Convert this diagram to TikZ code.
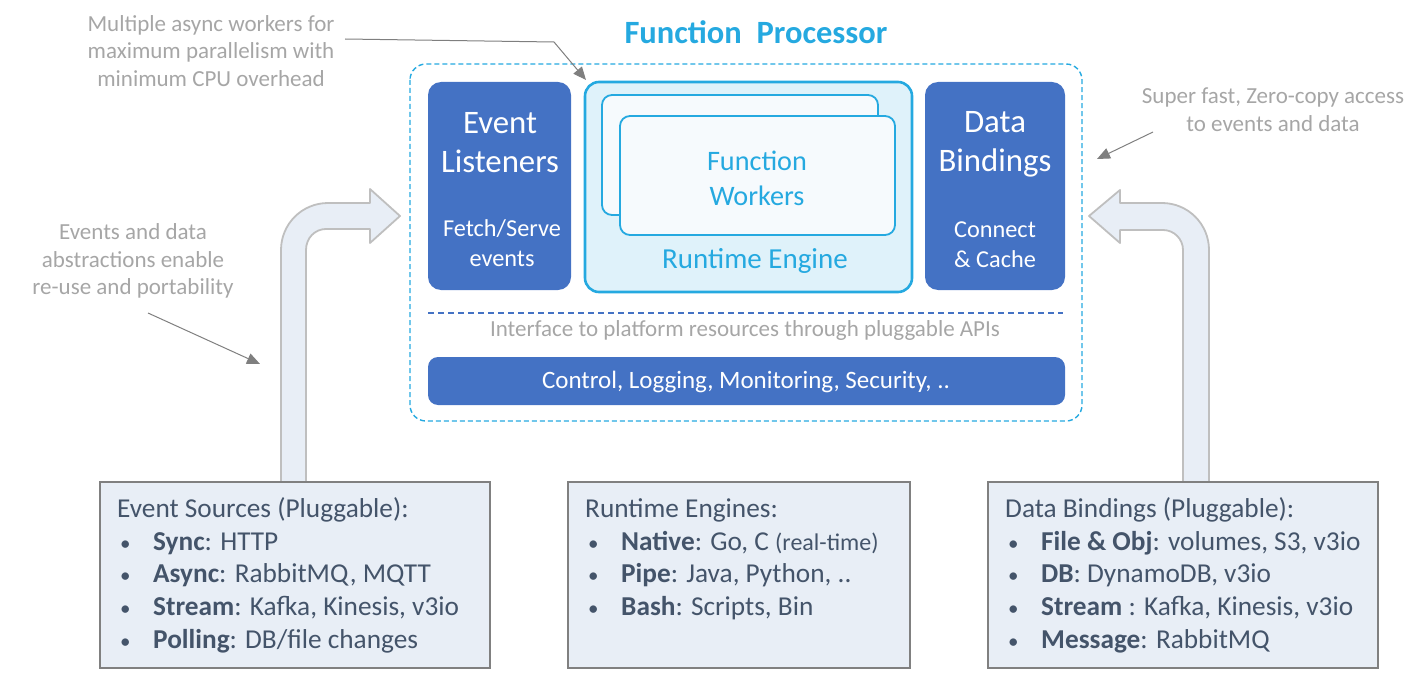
\documentclass[tikz,border=0pt]{standalone}
\usepackage{fontspec}
\setmainfont{Carlito}
\usetikzlibrary{arrows.meta}
\definecolor{boxblue}{HTML}{4472C4}
\definecolor{cyanc}{HTML}{25A9E0}
\definecolor{rtfill}{HTML}{DFF2FA}
\definecolor{cardfill}{HTML}{F6FAFD}
\definecolor{srcfill}{HTML}{E8EEF6}
\definecolor{bordergray}{HTML}{808080}
\definecolor{slate}{HTML}{44546A}
\definecolor{annotgray}{HTML}{A6A6A6}
\definecolor{arrowgray}{HTML}{7F7F7F}
\definecolor{bentfill}{HTML}{E8EEF6}
\definecolor{bentdraw}{HTML}{BFBFBF}
\tikzset{
  annot/.style={text=annotgray, font=\fontsize{23}{27.6}\selectfont, align=center, inner sep=0},
  bluebox/.style={fill=boxblue, rounded corners=13, draw=none},
  bigw/.style={text=white, font=\fontsize{32.8}{39}\selectfont, align=center, inner sep=0},
  smallw/.style={text=white, font=\fontsize{24.3}{30}\selectfont, align=center, inner sep=0},
  srcbox/.style={draw=bordergray, fill=srcfill, line width=1.6},
  srctext/.style={text=slate, font=\fontsize{27.3}{33}\selectfont, anchor=base west, inner sep=0},
  notearrow/.style={draw=arrowgray, line width=1, -{Triangle[length=13,width=11]}},
  bent/.style={fill=bentfill, draw=bentdraw, line width=1.8, line join=round},
}
\newcommand{\bul}[2]{\makebox[36pt][l]{\hspace*{3pt}{\fontsize{21}{24}\selectfont\textbullet}}\textbf{#1}#2}
\begin{document}
\begin{tikzpicture}[x=1pt,y=-1pt]
\useasboundingbox (0,0) rectangle (1427,674);

% title
\node[text=cyanc, font=\fontsize{32.5}{36}\selectfont\bfseries, inner sep=0] (title) at (756,32) {Function\ \ Processor};

% outer dashed frame
\draw[cyanc, line width=1.4, dash pattern=on 5pt off 3pt, rounded corners=16] (410,64) rectangle (1082,421);
\node[inner sep=0, minimum width=0] (frame) at (746,242) {};

% event listeners
\draw[bluebox] (428,82) rectangle (571,290);
\node[inner sep=0] (el) at (499.5,186) {};
\node[bigw] (elt) at (500,143) {Event\\Listeners};
\node[smallw] (els) at (502,243) {Fetch/Serve\\events};

% runtime engine
\draw[draw=cyanc, fill=rtfill, line width=2.6, rounded corners=14] (585,82) rectangle (912,292);
\node[inner sep=0] (rt) at (748,187) {};
\draw[draw=cyanc, fill=cardfill, line width=1.8, rounded corners=10] (602,95) rectangle (878,215);
\draw[draw=cyanc, fill=cardfill, line width=1.8, rounded corners=10] (620,116) rectangle (895,235);
\node[text=cyanc, font=\fontsize{28.2}{35}\selectfont, align=center, inner sep=0] (fw) at (757,178) {Function\\Workers};
\node[text=cyanc, font=\fontsize{29}{32}\selectfont, inner sep=0] (rte) at (755,261) {Runtime Engine};

% data bindings
\draw[bluebox] (925,82) rectangle (1065,290);
\node[inner sep=0] (db) at (995,186) {};
\node[bigw] (dbt) at (995,144) {Data\\Bindings};
\node[smallw] (dbs) at (995,245) {Connect\\\& Cache};

% dashed separator
\draw[boxblue, line width=1.6, dash pattern=on 6pt off 4pt] (428,313) -- (1063,313);
\node[text=annotgray, font=\fontsize{23}{26}\selectfont, inner sep=0] (iface) at (745,330) {Interface to platform resources through pluggable APIs};

% control bar
\draw[bluebox, rounded corners=10] (428,357) rectangle (1065,405);
\node[text=white, font=\fontsize{25}{28}\selectfont, inner sep=0] (ctrl) at (746,382) {Control, Logging, Monitoring, Security, ..};

% bent arrows
\path[bent] (281,482) -- (281,250) .. controls (281,224) and (302,203) .. (328,203) -- (370,203) -- (370,189) -- (400,216) -- (370,243) -- (370,229) -- (326,229) .. controls (315,229) and (306,238) .. (306,250) -- (306,482) -- cycle;
\path[bent] (1209,482) -- (1209,250) .. controls (1209,224) and (1188,203) .. (1162,203) -- (1120,203) -- (1120,190) -- (1089,216) -- (1120,243) -- (1120,230) -- (1163,230) .. controls (1174,230) and (1183,239) .. (1183,250) -- (1183,482) -- cycle;

% bottom boxes
\draw[srcbox] (100,482) rectangle (490,668);
\node[inner sep=0] (srcL) at (295,575) {};
\node[srctext] (l0) at (117,517) {Event Sources (Pluggable):};
\node[srctext] (l1) at (117,550) {\bul{Sync}{: HTTP}};
\node[srctext] (l2) at (117,582.5) {\bul{Async}{: RabbitMQ, MQTT}};
\node[srctext] (l3) at (117,615.5) {\bul{Stream}{: Kafka, Kinesis, v3io}};
\node[srctext] (l4) at (117,648.5) {\bul{Polling}{: DB/file changes}};

\draw[srcbox] (568,482) rectangle (910,668);
\node[inner sep=0] (srcM) at (739,575) {};
\node[srctext] (m0) at (585,517) {Runtime Engines:};
\node[srctext] (m1) at (585,550) {\bul{Native}{: Go, C {\fontsize{24}{28}\selectfont(real-time)}}};
\node[srctext] (m2) at (585,582.5) {\bul{Pipe}{: Java, Python, ..}};
\node[srctext] (m3) at (585,615.5) {\bul{Bash}{: Scripts, Bin}};

\draw[srcbox] (988,482) rectangle (1378,668);
\node[inner sep=0] (srcR) at (1183,575) {};
\node[srctext] (r0) at (1005,517) {Data Bindings (Pluggable):};
\node[srctext] (r1) at (1005,550) {\bul{File \& Obj}{: volumes, S3, v3io}};
\node[srctext] (r2) at (1005,582.5) {\bul{DB}{: DynamoDB, v3io}};
\node[srctext] (r3) at (1005,615.5) {\bul{Stream }{: Kafka, Kinesis, v3io}};
\node[srctext] (r4) at (1005,648.5) {\bul{Message}{: RabbitMQ}};

% annotations
\node[annot] (a1) at (211,51) {Multiple async workers for\\maximum parallelism with\\minimum CPU overhead};
\node[annot] (a2) at (1273,110) {Super fast, Zero-copy access\\to events and data};
\node[annot] (a3) at (133,261) {Events and data\\abstractions enable\\re-use and portability};
\coordinate (a1s) at (345,39);
\coordinate (a1b) at (554,42);
\coordinate (a1e) at (586,80);
\coordinate (a2s) at (1153,132);
\coordinate (a2e) at (1097,159);
\coordinate (a3s) at (148,313);
\coordinate (a3e) at (260,364);
\draw[notearrow] (a1s) -- (a1b) -- (a1e);
\draw[notearrow] (a2s) -- (a2e);
\draw[notearrow] (a3s) -- (a3e);
\end{tikzpicture}
\end{document}
